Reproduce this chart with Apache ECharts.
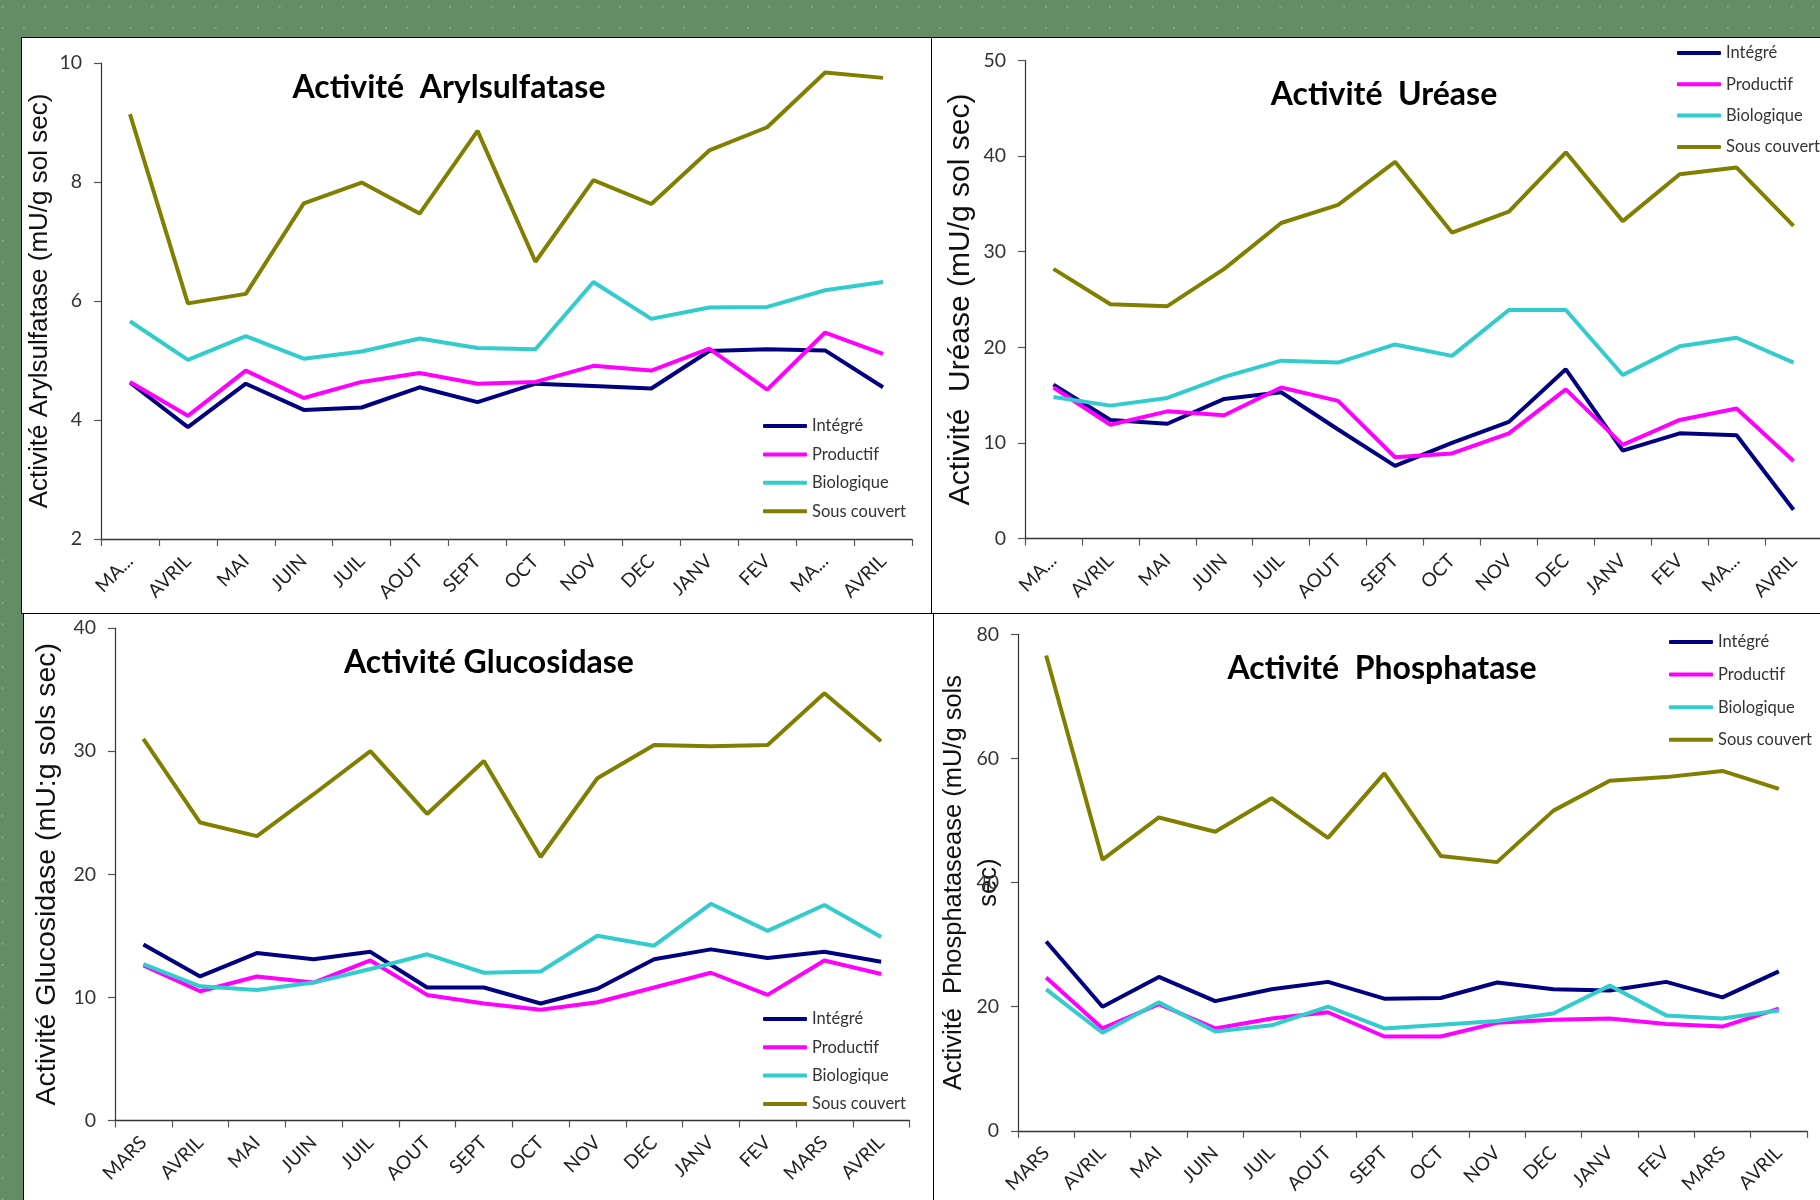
<!DOCTYPE html>
<html><head><meta charset="utf-8">
<script src="https://cdn.jsdelivr.net/npm/echarts@6/dist/echarts.min.js"></script>
<style>
html,body{margin:0;padding:0;width:1820px;height:1200px;overflow:hidden;}
body{background-color:rgb(100,141,101);background-image:radial-gradient(circle, rgba(150,185,150,0.6) 0.9px, transparent 1.5px);background-size:21.3px 21.3px;background-position:-8px -4px;}
.panel{position:absolute;background:#fff;border:1px solid #000;box-sizing:border-box;overflow:visible;}
.chart{position:absolute;left:-1px;top:-1px;}
</style></head><body>
<div class="panel" style="left:21px;top:37px;width:911px;height:577px"><div class="chart" id="c1" style="width:911px;height:577px"></div></div>
<div class="panel" style="left:931px;top:37px;width:900px;height:577px"><div class="chart" id="c2" style="width:900px;height:577px"></div></div>
<div class="panel" style="left:23px;top:613px;width:911px;height:600px"><div class="chart" id="c3" style="width:911px;height:600px"></div></div>
<div class="panel" style="left:933px;top:613px;width:900px;height:600px"><div class="chart" id="c4" style="width:900px;height:600px"></div></div>
<script>
// ---- data ----
const categories = ['MARS','AVRIL','MAI','JUIN','JUIL','AOUT','SEPT','OCT','NOV','DEC','JANV','FEV','MARS','AVRIL'];
const topTickLabels = ['MA...','AVRIL','MAI','JUIN','JUIL','AOUT','SEPT','OCT','NOV','DEC','JANV','FEV','MA...','AVRIL'];
const seriesNames = ['Intégré','Productif','Biologique','Sous couvert'];
const seriesColors = ['#000080','#ff00ff','#33cccc','#808000'];

const arylIntegre    = [4.63,3.88,4.61,4.17,4.21,4.55,4.30,4.61,4.57,4.53,5.16,5.19,5.17,4.55];
const arylProductif  = [4.64,4.07,4.83,4.37,4.64,4.79,4.61,4.64,4.91,4.83,5.20,4.51,5.47,5.11];
const arylBiologique = [5.66,5.01,5.41,5.03,5.15,5.37,5.21,5.19,6.32,5.70,5.89,5.90,6.18,6.32];
const arylSousCouvert= [9.14,5.96,6.12,7.64,7.99,7.47,8.86,6.66,8.03,7.63,8.53,8.92,9.84,9.75];

const ureIntegre    = [16.1,12.4,12.0,14.6,15.3,11.4,7.6,10.0,12.2,17.7,9.2,11.0,10.8,3.0];
const ureProductif  = [15.8,11.9,13.3,12.9,15.8,14.4,8.5,8.9,11.0,15.6,9.8,12.4,13.6,8.1];
const ureBiologique = [14.8,13.9,14.7,16.9,18.6,18.4,20.3,19.1,23.9,23.9,17.1,20.1,21.0,18.4];
const ureSousCouvert= [28.2,24.5,24.3,28.2,33.0,34.9,39.4,32.0,34.2,40.4,33.2,38.1,38.8,32.7];

const gluIntegre    = [14.3,11.7,13.6,13.1,13.7,10.8,10.8,9.5,10.7,13.1,13.9,13.2,13.7,12.9];
const gluProductif  = [12.6,10.5,11.7,11.2,13.0,10.2,9.5,9.0,9.6,10.8,12.0,10.2,13.0,11.9];
const gluBiologique = [12.7,10.9,10.6,11.2,12.3,13.5,12.0,12.1,15.0,14.2,17.6,15.4,17.5,14.9];
const gluSousCouvert= [31.0,24.2,23.1,26.5,30.0,24.9,29.2,21.4,27.8,30.5,30.4,30.5,34.7,30.8];

const phoIntegre    = [30.5,20.0,24.8,20.9,22.8,24.0,21.3,21.4,23.9,22.8,22.6,24.0,21.5,25.7];
const phoProductif  = [24.7,16.5,20.4,16.5,18.1,19.1,15.2,15.2,17.4,17.9,18.1,17.2,16.8,19.7];
const phoBiologique = [22.8,15.8,20.7,16.0,17.0,20.0,16.5,17.1,17.7,18.9,23.4,18.6,18.1,19.4];
const phoSousCouvert= [76.6,43.7,50.5,48.2,53.6,47.2,57.6,44.3,43.3,51.6,56.4,57.0,58.0,55.1];

// ---- builder ----
function build(id, o) {
  const chart = echarts.init(document.getElementById(id));
  const axisColor = '#333';
  chart.setOption({
    backgroundColor: 'transparent',
    animation: false,
    title: {
      text: o.title, left: o.titleX, top: o.titleY, textAlign: 'center', padding: 0,
      textStyle: {fontFamily: 'Lato', fontWeight: 'bold', fontSize: 32, lineHeight: 36, color: '#000'}
    },
    legend: {
      orient: 'vertical', left: o.legX, top: o.legY, padding: 0, itemGap: o.legGap,
      itemWidth: 44, itemHeight: 4, icon: 'roundRect', data: seriesNames,
      textStyle: {fontFamily: 'Lato', fontSize: 16.5, lineHeight: 20, color: '#333'}
    },
    grid: {left: o.left, top: o.top, width: o.width, height: o.height, containLabel: false, outerBoundsMode: 'none'},
    xAxis: {
      type: 'category', data: o.labels, boundaryGap: true,
      axisLine: {lineStyle: {color: axisColor, width: 1.3}},
      axisTick: {show: true, length: 7, lineStyle: {color: '#555', width: 1.2}},
      axisLabel: {interval: 0, rotate: 45, margin: 19, fontFamily: 'Lato', fontSize: 19, color: '#222'}
    },
    yAxis: {
      type: 'value', min: o.min, max: o.max, interval: o.interval,
      splitLine: {show: false},
      axisLine: {show: true, lineStyle: {color: axisColor, width: 1.2}},
      axisTick: {show: true, length: 7, lineStyle: {color: '#555', width: 1.2}},
      axisLabel: {margin: 19, fontFamily: 'Lato', fontSize: 19.5, color: '#333'},
      name: o.yName, nameLocation: 'middle', nameGap: o.nameGap, nameMoveOverlap: false,
      nameTextStyle: {fontFamily: 'Liberation Sans', fontSize: o.nameSize, lineHeight: o.nameLH, color: '#111', align: 'center'}
    },
    series: o.values.map((v, i) => ({
      name: seriesNames[i], type: 'line', data: v, symbol: 'none',
      color: seriesColors[i], lineStyle: {width: 4, color: seriesColors[i]}
    }))
  });
}

build('c1', {
  title: 'Activité  Arylsulfatase', titleX: 428, titleY: 33,
  legX: 742, legY: 379, legGap: 8.4,
  left: 80, top: 26, width: 811, height: 476, labels: topTickLabels,
  min: 2, max: 10, interval: 2,
  yName: 'Activité Arylsulfatase (mU/g sol sec)', nameGap: 46, nameSize: 26, nameLH: 30,
  values: [arylIntegre, arylProductif, arylBiologique, arylSousCouvert]
});
build('c2', {
  title: 'Activité  Uréase', titleX: 453, titleY: 40,
  legX: 746, legY: 6, legGap: 11.3,
  left: 94, top: 23.5, width: 797, height: 478, labels: topTickLabels,
  min: 0, max: 50, interval: 10,
  yName: 'Activité  Uréase (mU/g sol sec)', nameGap: 47, nameSize: 30, nameLH: 34,
  values: [ureIntegre, ureProductif, ureBiologique, ureSousCouvert]
});
build('c3', {
  title: 'Activité Glucosidase', titleX: 466, titleY: 32,
  legX: 740, legY: 396, legGap: 8.3,
  left: 92, top: 15, width: 794.5, height: 492.5, labels: categories,
  min: 0, max: 40, interval: 10,
  yName: 'Activité Glucosidase (mU:g sols sec)', nameGap: 52, nameSize: 28.5, nameLH: 32,
  values: [gluIntegre, gluProductif, gluBiologique, gluSousCouvert]
});
build('c4', {
  title: 'Activité  Phosphatase', titleX: 449, titleY: 38,
  legX: 736, legY: 19, legGap: 12.6,
  left: 85, top: 21.4, width: 789, height: 496.4, labels: categories,
  min: 0, max: 80, interval: 20,
  yName: 'Activité  Phosphatasease (mU/g sols\nsec)', nameGap: 12, nameSize: 25.5, nameLH: 35,
  values: [phoIntegre, phoProductif, phoBiologique, phoSousCouvert]
});
</script>
</body></html>
